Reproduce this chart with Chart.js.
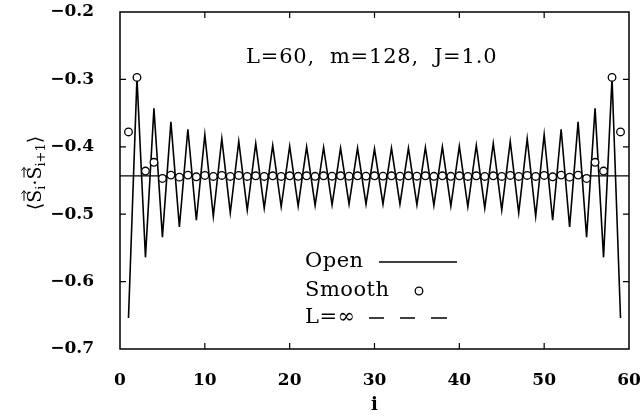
<!DOCTYPE html>
<html>
<head>
<meta charset="utf-8">
<script src="https://cdn.jsdelivr.net/npm/chart.js@4.4.1/dist/chart.umd.min.js"></script>
<style>
  html, body { margin: 0; padding: 0; background: #fff; }
  #wrap { width: 642px; height: 416px; }
</style>
</head>
<body>
<div id="wrap"><canvas id="chart" width="642" height="416"></canvas></div>
<script>
// bond index i = 1..59 for an open chain of L = 60
const sites = [1, 2, 3, 4, 5, 6, 7, 8, 9, 10, 11, 12, 13, 14, 15, 16, 17, 18, 19, 20,
    21, 22, 23, 24, 25, 26, 27, 28, 29, 30, 31, 32, 33, 34, 35, 36, 37, 38, 39, 40,
    41, 42, 43, 44, 45, 46, 47, 48, 49, 50, 51, 52, 53, 54, 55, 56, 57, 58, 59];

// <S_i . S_i+1>, open boundary conditions
const openValues = [-0.654, -0.298, -0.564, -0.343, -0.534, -0.363, -0.519, -0.374, -0.509, -0.382,
    -0.503, -0.388, -0.498, -0.392, -0.494, -0.395, -0.491, -0.398, -0.489, -0.399,
    -0.488, -0.400, -0.487, -0.401, -0.486, -0.402, -0.485, -0.402, -0.485, -0.403,
    -0.485, -0.402, -0.485, -0.402, -0.486, -0.401, -0.487, -0.400, -0.488, -0.399,
    -0.489, -0.398, -0.491, -0.395, -0.494, -0.392, -0.498, -0.388, -0.503, -0.382,
    -0.509, -0.374, -0.519, -0.363, -0.534, -0.343, -0.564, -0.298, -0.654];

// smoothed boundary conditions
const smoothValues = [-0.378, -0.297, -0.436, -0.423, -0.447, -0.442, -0.445, -0.442, -0.4445, -0.4425,
    -0.444, -0.4425, -0.444, -0.4425, -0.444, -0.443, -0.444, -0.443, -0.444, -0.443,
    -0.4438, -0.443, -0.4438, -0.443, -0.4436, -0.443, -0.4436, -0.443, -0.4435, -0.443,
    -0.4435, -0.443, -0.4436, -0.443, -0.4436, -0.443, -0.4438, -0.443, -0.4438, -0.443,
    -0.444, -0.443, -0.444, -0.443, -0.444, -0.4425, -0.444, -0.4425, -0.444, -0.4425,
    -0.4445, -0.442, -0.445, -0.442, -0.447, -0.423, -0.436, -0.297, -0.378];

// bulk value, L = infinity
const bulkX = [0, 60];
const bulkY = [-0.4431, -0.4431];

const xTicks = [0, 10, 20, 30, 40, 50, 60];
const yTicks = [-0.7, -0.6, -0.5, -0.4, -0.3, -0.2];

const paramText = 'L=60,  m=128,  J=1.0';
const legendLabels = ['Open', 'Smooth', 'L=\u221E'];
const xTitle = 'i';

const FONT = '"DejaVu Serif", serif';

function fmt(v) {
    return v.toFixed(1).replace('-', '\u2212');
}

function noPad(s) {
    s.paddingTop = 0; s.paddingBottom = 0; s.paddingLeft = 0; s.paddingRight = 0;
}

// frame, inner tick marks, labels and legend drawn on top
const decorations = {
    id: 'decorations',
    afterDraw(chart) {
        const ctx = chart.ctx;
        const area = chart.chartArea;
        const xs = chart.scales.x;
        const ys = chart.scales.y;
        ctx.save();
        ctx.strokeStyle = '#000';
        ctx.fillStyle = '#000';

        // box
        ctx.lineWidth = 1.5;
        ctx.strokeRect(area.left, area.top, area.right - area.left, area.bottom - area.top);

        // inner ticks
        ctx.lineWidth = 1.2;
        ctx.beginPath();
        xTicks.slice(1, -1).forEach(v => {
            const px = xs.getPixelForValue(v);
            ctx.moveTo(px, area.bottom); ctx.lineTo(px, area.bottom - 6);
            ctx.moveTo(px, area.top); ctx.lineTo(px, area.top + 6);
        });
        yTicks.slice(1, -1).forEach(v => {
            const py = ys.getPixelForValue(v);
            ctx.moveTo(area.left, py); ctx.lineTo(area.left + 6, py);
            ctx.moveTo(area.right, py); ctx.lineTo(area.right - 6, py);
        });
        ctx.stroke();

        // parameter label
        ctx.font = '21px ' + FONT;
        ctx.letterSpacing = '0.8px';
        ctx.textAlign = 'left';
        ctx.textBaseline = 'middle';
        ctx.fillText(paramText, 246, ys.getPixelForValue(-0.268));

        // legend
        ctx.font = '21px ' + FONT;
        ctx.letterSpacing = '0.5px';
        const lx = 305;
        const rows = [262, 291, 318];
        legendLabels.forEach((t, k) => ctx.fillText(t, lx, rows[k]));
        ctx.letterSpacing = '0px';
        ctx.lineWidth = 1.3;
        ctx.beginPath();
        ctx.moveTo(379, rows[0]); ctx.lineTo(457, rows[0]);
        ctx.stroke();
        ctx.beginPath();
        ctx.arc(419, rows[1], 3.8, 0, Math.PI * 2);
        ctx.stroke();
        ctx.beginPath();
        [[369, 384], [400, 415], [431, 447]].forEach(d => {
            ctx.moveTo(d[0], rows[2]); ctx.lineTo(d[1], rows[2]);
        });
        ctx.stroke();

        // x title
        ctx.font = 'bold 18px ' + FONT;
        ctx.textAlign = 'center';
        ctx.fillText(xTitle, xs.getPixelForValue(30), 405);

        // y title <S_i . S_i+1> with vector arrows
        ctx.translate(34, 173);
        ctx.rotate(-Math.PI / 2);
        ctx.textAlign = 'left';
        ctx.textBaseline = 'alphabetic';
        const big = '19px ' + FONT;
        const small = '13px ' + FONT;
        const parts = [
            ['\u27E8', big, 0, false],
            ['S', big, 0, true],
            ['i', small, 4, false],
            ['\u00B7', big, 0, false],
            ['S', big, 0, true],
            ['i+1', small, 4, false],
            ['\u27E9', big, 0, false]
        ];
        let total = 0;
        parts.forEach(p => { ctx.font = p[1]; total += ctx.measureText(p[0]).width; });
        let cx = -total / 2;
        const base = 7;
        parts.forEach(p => {
            ctx.font = p[1];
            const w = ctx.measureText(p[0]).width;
            ctx.fillText(p[0], cx, base + p[2]);
            if (p[3]) {
                const ay = base - 17;
                ctx.lineWidth = 1;
                ctx.beginPath();
                ctx.moveTo(cx + 2, ay); ctx.lineTo(cx + w - 1, ay);
                ctx.moveTo(cx + w - 4, ay - 2.5); ctx.lineTo(cx + w - 1, ay); ctx.lineTo(cx + w - 4, ay + 2.5);
                ctx.stroke();
            }
            cx += w;
        });
        ctx.restore();
    }
};

new Chart(document.getElementById('chart').getContext('2d'), {
    type: 'line',
    data: {
        datasets: [{
            label: 'L=\u221E',
            data: bulkX.map((x, k) => ({ x: x, y: bulkY[k] })),
            borderColor: '#000',
            borderWidth: 1.2,
            pointRadius: 0,
            order: 3
        }, {
            label: 'Open',
            data: sites.map((x, k) => ({ x: x, y: openValues[k] })),
            borderColor: '#000',
            borderWidth: 1.6,
            pointRadius: 0,
            tension: 0,
            order: 2
        }, {
            label: 'Smooth',
            data: sites.map((x, k) => ({ x: x, y: smoothValues[k] })),
            showLine: false,
            pointStyle: 'circle',
            pointRadius: 3.8,
            borderColor: '#000',
            backgroundColor: '#fff',
            pointBorderWidth: 1.3,
            order: 1
        }]
    },
    options: {
        responsive: false,
        animation: false,
        layout: { padding: { top: 12, right: 13, left: 0, bottom: 0 } },
        plugins: {
            legend: { display: false },
            tooltip: { enabled: false }
        },
        scales: {
            x: {
                type: 'linear',
                min: 0,
                max: 60,
                afterBuildTicks: s => { s.ticks = xTicks.map(v => ({ value: v })); },
                afterFit: s => { s.height = 67; noPad(s); },
                grid: { display: false, drawTicks: false },
                border: { display: false },
                ticks: {
                    color: '#000',
                    font: { family: FONT, size: 17, weight: 'bold' },
                    padding: 21,
                    maxRotation: 0,
                    callback: v => String(v)
                }
            },
            y: {
                type: 'linear',
                min: -0.7,
                max: -0.2,
                afterBuildTicks: s => { s.ticks = yTicks.map(v => ({ value: v })); },
                afterFit: s => { s.width = 120; noPad(s); },
                grid: { display: false, drawTicks: false },
                border: { display: false },
                ticks: {
                    color: '#000',
                    font: { family: FONT, size: 17, weight: 'bold' },
                    padding: 26,
                    callback: v => fmt(v)
                }
            }
        }
    },
    plugins: [decorations]
});
</script>
</body>
</html>
